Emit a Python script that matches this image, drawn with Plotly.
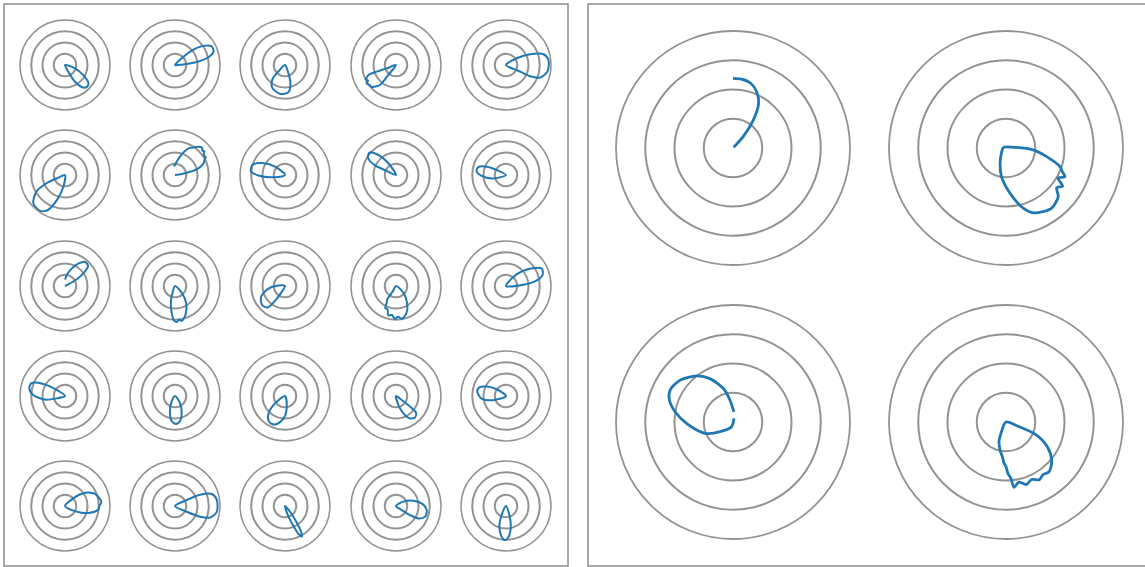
import plotly.graph_objects as go

W, H = 1145, 567

# left panel: 5x5 small polar plots, read row by row (theta in degrees, r in ring units)
grid_theta = [
    [-10, -18, -29, -38, -45, -51, -59, -64, -62],
    [40, 45, 41, 34, 27, 19, 12, 7, 3, 0],
    [-65, -68, -74, -83, -100, -120, -132, -136, -130],
    [195, 200, 199, 200, 203, 205, 209, 212, 217, 222, 231, 232, 235],
    [30, 32, 24, 16, 7, -9, -20, -25, -25, -20],

    [265, 262, 252, 244, 235, 222, 210, 204, 202, 200],
    [97, 75, 63, 55, 50, 45, 42, 39, 35, 30, 26, 22, 16, 12, 8, 0],
    [135, 140, 153, 163, 174, 181, 190, 195],
    [115, 123, 133, 140, 149, 155, 156, 158],
    [148, 152, 157, 164, 172, 182, 195, 200],

    [25, 28, 34, 41, 50, 59, 70, 83, 88],
    [-40, -45, -57, -70, -79, -83, -87, -91, -97, -105, -112, -115],
    [175, 178, 190, 205, 220, 231, 236, 240, 245],
    [-40, -43, -57, -69, -80, -86, -92, -98, -105, -110, -116, -119, -123, -121, -125],
    [0, 4, 10, 17, 26, 35, 48, 55],

    [140, 144, 151, 159, 168, 178, 190, 196, 200],
    [-50, -55, -69, -78, -88, -98, -108, -121, -125],
    [-75, -80, -92, -105, -115, -125, -135, -145, -150],
    [-30, -35, -37, -40, -48, -58, -67, -75, -80],
    [140, 144, 154, 162, 171, 186, 198, 200],

    [45, 43, 35, 24, 18, 12, 8, 4, 0, -6, -15, -23, -34, -38],
    [25, 27, 24, 18, 8, -8, -18, -23, -26, -25],
    [-45, -50, -55, -58, -61, -64, -67, -72, -75],
    [40, 31, 17, 4, -8, -20, -29, -33, -35, -35],
    [-65, -70, -77, -86, -92, -100, -109, -116, -120],
]
grid_r = [
    [0, 0.94, 1.86, 2.65, 2.75, 2.58, 1.74, 0.67, 0],
    [0, 0.84, 1.96, 3.04, 3.66, 3.62, 2.89, 1.65, 0.6, 0],
    [0, 0.8, 1.77, 2.45, 2.6, 2.3, 1.64, 0.83, 0],
    [0, 0.88, 1.82, 2.63, 2.8, 2.97, 2.85, 3.09, 2.95, 2.91, 2.29, 1.13, 0],
    [0, 1.13, 2.35, 3.47, 3.8, 3.73, 3.23, 2.36, 1.21, 0],

    [0, 1.05, 2.35, 3.46, 3.89, 3.79, 2.93, 1.8, 0.64, 0],
    [0.75, 1.7, 2.66, 3.0, 3.27, 3.42, 3.25, 3.35, 3.1, 3.15, 2.9, 2.73, 2.16, 1.37, 0.6, 0],
    [0, 1.16, 2.33, 3.04, 3.04, 2.37, 1.2, 0],
    [0, 1.25, 2.55, 3.1, 2.89, 2.08, 1.08, 0],
    [0, 0.94, 1.88, 2.56, 2.65, 2.17, 1.17, 0],

    [0, 0.8, 1.89, 2.71, 2.8, 2.35, 1.6, 0.9, 0.57],
    [0, 0.88, 1.82, 2.73, 3.16, 3.0, 3.2, 3.1, 2.43, 1.42, 0.52, 0],
    [0, 0.74, 1.57, 2.36, 2.65, 2.45, 1.59, 0.65, 0],
    [0, 0.93, 1.82, 2.59, 2.96, 2.75, 2.92, 2.6, 2.7, 2.2, 2.18, 1.7, 1.45, 0.56, 0],
    [0, 1.56, 2.73, 3.4, 3.54, 2.7, 1.36, 0],

    [0, 0.92, 2.21, 3.19, 3.25, 2.83, 1.81, 0.77, 0],
    [0, 0.79, 1.66, 2.25, 2.5, 2.22, 1.47, 0.59, 0],
    [0, 0.9, 1.9, 2.55, 2.75, 2.6, 2.0, 0.9, 0],
    [0, 0.62, 1.57, 2.33, 2.55, 2.36, 1.68, 0.83, 0],
    [0, 1.02, 1.92, 2.5, 2.59, 2.18, 1.19, 0],

    [0, 1.0, 1.99, 2.77, 3.0, 3.14, 3.25, 3.19, 3.05, 2.99, 2.31, 1.46, 0.54, 0],
    [0, 1.17, 2.44, 3.44, 3.76, 3.75, 3.29, 2.43, 1.16, 0],
    [0, 0.9, 1.9, 2.7, 3.1, 2.8, 2.0, 1.0, 0],
    [0, 0.76, 1.62, 2.39, 2.76, 2.76, 2.27, 1.48, 0.62, 0],
    [0, 0.86, 1.9, 2.8, 3.04, 2.63, 1.8, 0.89, 0],
]

# right panel: 2x2 large polar plots
big_theta = [
    [45, 48, 54, 60, 67, 75, 83, 90],
    [167, 3, -4, -12, -19, -23, -26, -30, -34, -38, -43, -53, -67, -74, -85, -99, -111, -140, 167],
    [85, 98, 106, 118, 128, 142, 153, 161, 170, 182, 202, 217, 253, 76],
    [-15, -20, -23, -31, -40, -49, -55, -60, -66, -72, -78, -83, -85, -88, -90, -93, -96, -100, -105, -110, -114, -120],
]
big_r = [
    [0.03, 0.52, 1.18, 1.75, 2.08, 2.3, 2.37, 2.38],
    [0.09, 0.36, 0.93, 1.42, 1.95, 2.1, 2.24, 2.05, 2.34, 2.2, 2.44, 2.58, 2.41, 2.14, 1.55, 0.99, 0.56, 0.19, 0.09],
    [0.35, 0.76, 1.19, 1.68, 2.0, 2.31, 2.41, 2.3, 2.01, 1.58, 1.03, 0.55, 0.17, 0.13],
    [0, 0.48, 1.11, 1.65, 2.04, 2.25, 2.2, 2.28, 2.15, 2.25, 2.1, 2.25, 1.93, 1.75, 1.52, 1.4, 1.19, 1.05, 0.87, 0.7, 0.42, 0],
]

rings = [1, 2, 3]
r_max = 4

BLUE = '#1f77b4'
GRID = '#939393'

# layout of the subplots (pixel centres and radii)
grid_cx = [65, 175, 285, 396, 506]
grid_cy = [65, 175, 286, 396, 506]
small_R = 45
big_cx = [733, 1006]
big_cy = [148, 422]
big_R = 117

fig = go.Figure()


def add_polar(idx, cx, cy, R, theta, r, lw, gw):
    name = 'polar' if idx == 1 else 'polar%d' % idx
    fig.add_trace(go.Scatterpolar(theta=theta, r=r, mode='lines',
                                  line=dict(color=BLUE, width=lw, shape='spline', smoothing=0.8),
                                  subplot=name, hoverinfo='skip', showlegend=False))
    fig.layout[name] = dict(
        domain=dict(x=[(cx - R) / W, (cx + R) / W], y=[1 - (cy + R) / H, 1 - (cy - R) / H]),
        bgcolor='white',
        radialaxis=dict(range=[0, r_max], tickvals=rings, showticklabels=False, ticks='',
                        showline=False, gridcolor=GRID, gridwidth=gw),
        angularaxis=dict(showgrid=False, showticklabels=False, ticks='', showline=True,
                         linecolor=GRID, linewidth=gw),
    )


k = 1
for i in range(5):
    for j in range(5):
        n = i * 5 + j
        add_polar(k, grid_cx[j], grid_cy[i], small_R, grid_theta[n], grid_r[n], 2, 1.5)
        k += 1

for i in range(2):
    for j in range(2):
        n = i * 2 + j
        add_polar(k, big_cx[j], big_cy[i], big_R, big_theta[n], big_r[n], 2.8, 1.8)
        k += 1

# panel frames
for x0, x1 in [(4, 568), (588, 1150)]:
    fig.add_shape(type='rect', xref='paper', yref='paper',
                  x0=x0 / W, x1=x1 / W, y0=1 - 566 / H, y1=1 - 4 / H,
                  line=dict(color='#8c8c8c', width=1.5), fillcolor='rgba(0,0,0,0)')

fig.update_layout(width=W, height=H, margin=dict(l=0, r=0, t=0, b=0),
                  paper_bgcolor='white', plot_bgcolor='white', showlegend=False)

fig.write_html("out.html", config={'displayModeBar': False},
               post_script="document.body.style.margin='0';document.body.style.overflow='hidden';")
